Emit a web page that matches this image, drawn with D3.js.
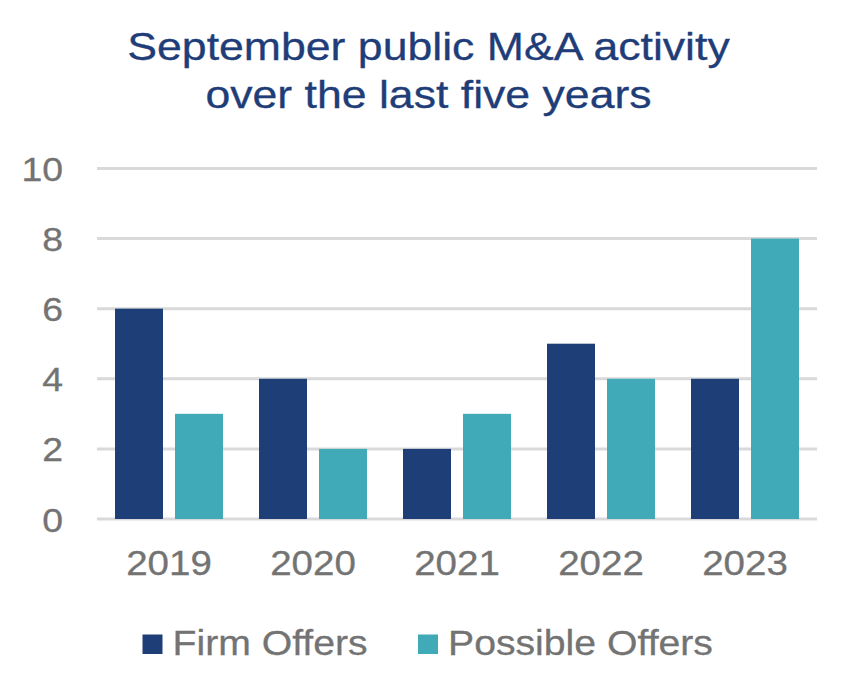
<!DOCTYPE html>
<html>
<head>
<meta charset="utf-8">
<script src="https://cdn.jsdelivr.net/npm/d3@7"></script>
<style>
  html, body { margin: 0; padding: 0; background: #ffffff; }
  svg { display: block; }
  text { font-family: "Liberation Sans", Arial, sans-serif; }
</style>
</head>
<body>
<svg id="chart" width="841" height="688"></svg>
<script>
const titleLines = ["September public M&A activity", "over the last five years"];
const categories = ["2019", "2020", "2021", "2022", "2023"];
const seriesNames = ["Firm Offers", "Possible Offers"];
const firmOffers = [6, 4, 2, 5, 4];
const possibleOffers = [3, 2, 3, 4, 8];
const yTicks = [0, 2, 4, 6, 8, 10];

const colors = { "Firm Offers": "#1E3E78", "Possible Offers": "#41AAB8" };
const textColor = "#737373";
const titleColor = "#1F3D78";

const svg = d3.select("#chart");
const plotLeft = 97, plotRight = 817, plotTop = 168.4, plotBottom = 519;

const x = d3.scaleBand().domain(categories).range([plotLeft, plotRight]).paddingInner(0).paddingOuter(0);
const inner = d3.scaleBand().domain(seriesNames).range([18, x.bandwidth() - 18]).paddingInner(0.2).paddingOuter(0);
const y = d3.scaleLinear().domain([0, 10]).range([plotBottom, plotTop]);

// title
svg.append("g").selectAll("text").data(titleLines).join("text")
  .attr("transform", (d, i) => `translate(428.5,${59.5 + i * 48}) scale(1.15,1)`)
  .attr("text-anchor", "middle")
  .attr("font-size", 38.8)
  .attr("fill", titleColor)
  .attr("stroke", titleColor).attr("stroke-width", 0.3)
  .text(d => d);

// gridlines
svg.append("g").selectAll("line").data(yTicks).join("line")
  .attr("x1", plotLeft).attr("x2", plotRight)
  .attr("y1", d => y(d)).attr("y2", d => y(d))
  .attr("stroke", "#D9D9D9").attr("stroke-width", 3);

// y axis labels via d3 axis
const yAxis = svg.append("g").attr("transform", `translate(${plotLeft},0)`)
  .call(d3.axisLeft(y).tickValues(yTicks).tickSize(0).tickPadding(0));
yAxis.select(".domain").remove();
yAxis.selectAll(".tick text")
  .attr("x", null).attr("dy", null)
  .attr("transform", "translate(-34,12) scale(1.1,1)")
  .attr("text-anchor", "end")
  .attr("font-size", 34)
  .attr("font-family", "Liberation Sans, Arial, sans-serif")
  .attr("fill", textColor)
  .attr("stroke", textColor).attr("stroke-width", 0.3);

// bars
const rows = categories.map((c, i) => ({ cat: c, values: [
  { key: "Firm Offers", value: firmOffers[i] },
  { key: "Possible Offers", value: possibleOffers[i] }
]}));
const groups = svg.append("g").selectAll("g").data(rows).join("g")
  .attr("transform", d => `translate(${x(d.cat)},0)`);
groups.selectAll("rect").data(d => d.values).join("rect")
  .attr("x", d => inner(d.key))
  .attr("width", inner.bandwidth())
  .attr("y", d => y(d.value))
  .attr("height", d => y(0) - y(d.value))
  .attr("fill", d => colors[d.key]);

// x axis labels via d3 axis
const xAxis = svg.append("g").attr("transform", `translate(0,${plotBottom})`)
  .call(d3.axisBottom(x).tickSize(0).tickPadding(0));
xAxis.select(".domain").remove();
xAxis.selectAll(".tick text")
  .attr("y", null).attr("dy", null)
  .attr("transform", "translate(0,56) scale(1.1,1)")
  .attr("text-anchor", "middle")
  .attr("font-size", 35)
  .attr("font-family", "Liberation Sans, Arial, sans-serif")
  .attr("fill", textColor)
  .attr("stroke", textColor).attr("stroke-width", 0.3);

// legend
const legendX = [142.5, 418];
const legend = svg.append("g").selectAll("g").data(seriesNames).join("g")
  .attr("transform", (d, i) => `translate(${legendX[i]},634.5)`);
legend.append("rect").attr("width", 20).attr("height", 19.5).attr("fill", d => colors[d]);
legend.append("text")
  .attr("transform", "translate(30,20.5) scale(1.12,1)")
  .attr("font-size", 35)
  .attr("fill", textColor)
  .attr("stroke", textColor).attr("stroke-width", 0.3)
  .text(d => d);
</script>
</body>
</html>
